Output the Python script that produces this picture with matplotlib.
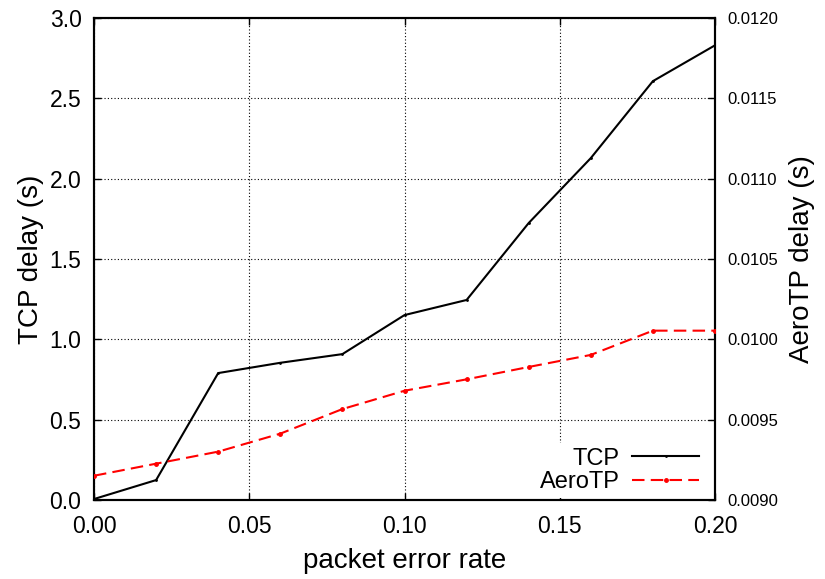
import matplotlib
matplotlib.use("Agg")
import matplotlib.pyplot as plt
from matplotlib.ticker import FormatStrFormatter

plt.rcParams['font.family'] = ['Liberation Sans', 'DejaVu Sans']

per = [0.00, 0.02, 0.04, 0.06, 0.08, 0.10, 0.12, 0.14, 0.16, 0.18, 0.20]
tcp_delay = [0.006, 0.124, 0.79, 0.854, 0.908, 1.151, 1.245, 1.724, 2.128, 2.607, 2.83]
aerotp_delay = [0.009151, 0.009226, 0.009301, 0.009413, 0.009566, 0.009680,
                0.009751, 0.009828, 0.009903, 0.010054, 0.010054]

x_ticks = [0.00, 0.05, 0.10, 0.15, 0.20]
left_ticks = [0.0, 0.5, 1.0, 1.5, 2.0, 2.5, 3.0]
right_ticks = [0.0090, 0.0095, 0.0100, 0.0105, 0.0110, 0.0115, 0.0120]

fig = plt.figure(figsize=(8.25, 5.79), dpi=100)
ax = fig.add_axes([94/825, 79/579, 621/825, 482/579])
ax2 = ax.twinx()

l1, = ax.plot(per, tcp_delay, color='black', lw=1.5, marker='.', markersize=2,
              label='TCP', zorder=3)
l2, = ax2.plot(per, aerotp_delay, color='red', lw=1.5, marker='o', markersize=2.5,
               dashes=(6, 3), label='AeroTP', zorder=3)

ax.set_xlim(0, 0.2)
ax.set_ylim(0, 3.0)
ax2.set_ylim(0.0090, 0.0120)
ax.set_xticks(x_ticks)
ax.set_yticks(left_ticks)
ax2.set_yticks(right_ticks)
ax.xaxis.set_major_formatter(FormatStrFormatter('%.2f'))
ax.yaxis.set_major_formatter(FormatStrFormatter('%.1f'))
ax2.yaxis.set_major_formatter(FormatStrFormatter('%.4f'))

ax.grid(True, color='black', linestyle=(0, (1, 2)), linewidth=0.8)

ax.tick_params(axis='x', direction='in', top=True, length=5, width=1,
               labelsize=16.5, pad=11)
ax.tick_params(axis='y', direction='in', length=5, width=1, labelsize=16.5, pad=9)
ax2.tick_params(axis='y', direction='in', length=5, width=1, labelsize=12, pad=9)

for a in (ax, ax2):
    for s in a.spines.values():
        s.set_linewidth(1.5)

ax.set_xlabel('packet error rate', fontsize=20, labelpad=7)
ax.set_ylabel('TCP delay (s)', fontsize=20, labelpad=4)
ax2.set_ylabel('AeroTP delay (s)', fontsize=20, labelpad=8)

leg = ax2.legend(handles=[l1, l2], loc='lower right', bbox_to_anchor=(0.985, 0.0),
                 fontsize=17, markerfirst=False, frameon=True, fancybox=False,
                 handlelength=2.8, handletextpad=0.55, labelspacing=0.05,
                 borderpad=0.2, borderaxespad=0.1)
leg.get_frame().set_facecolor('white')
leg.get_frame().set_edgecolor('none')
leg.get_frame().set_alpha(1)
for t in leg.get_texts():
    t.set_ha('right')

fig.savefig('out.png', dpi=100)
